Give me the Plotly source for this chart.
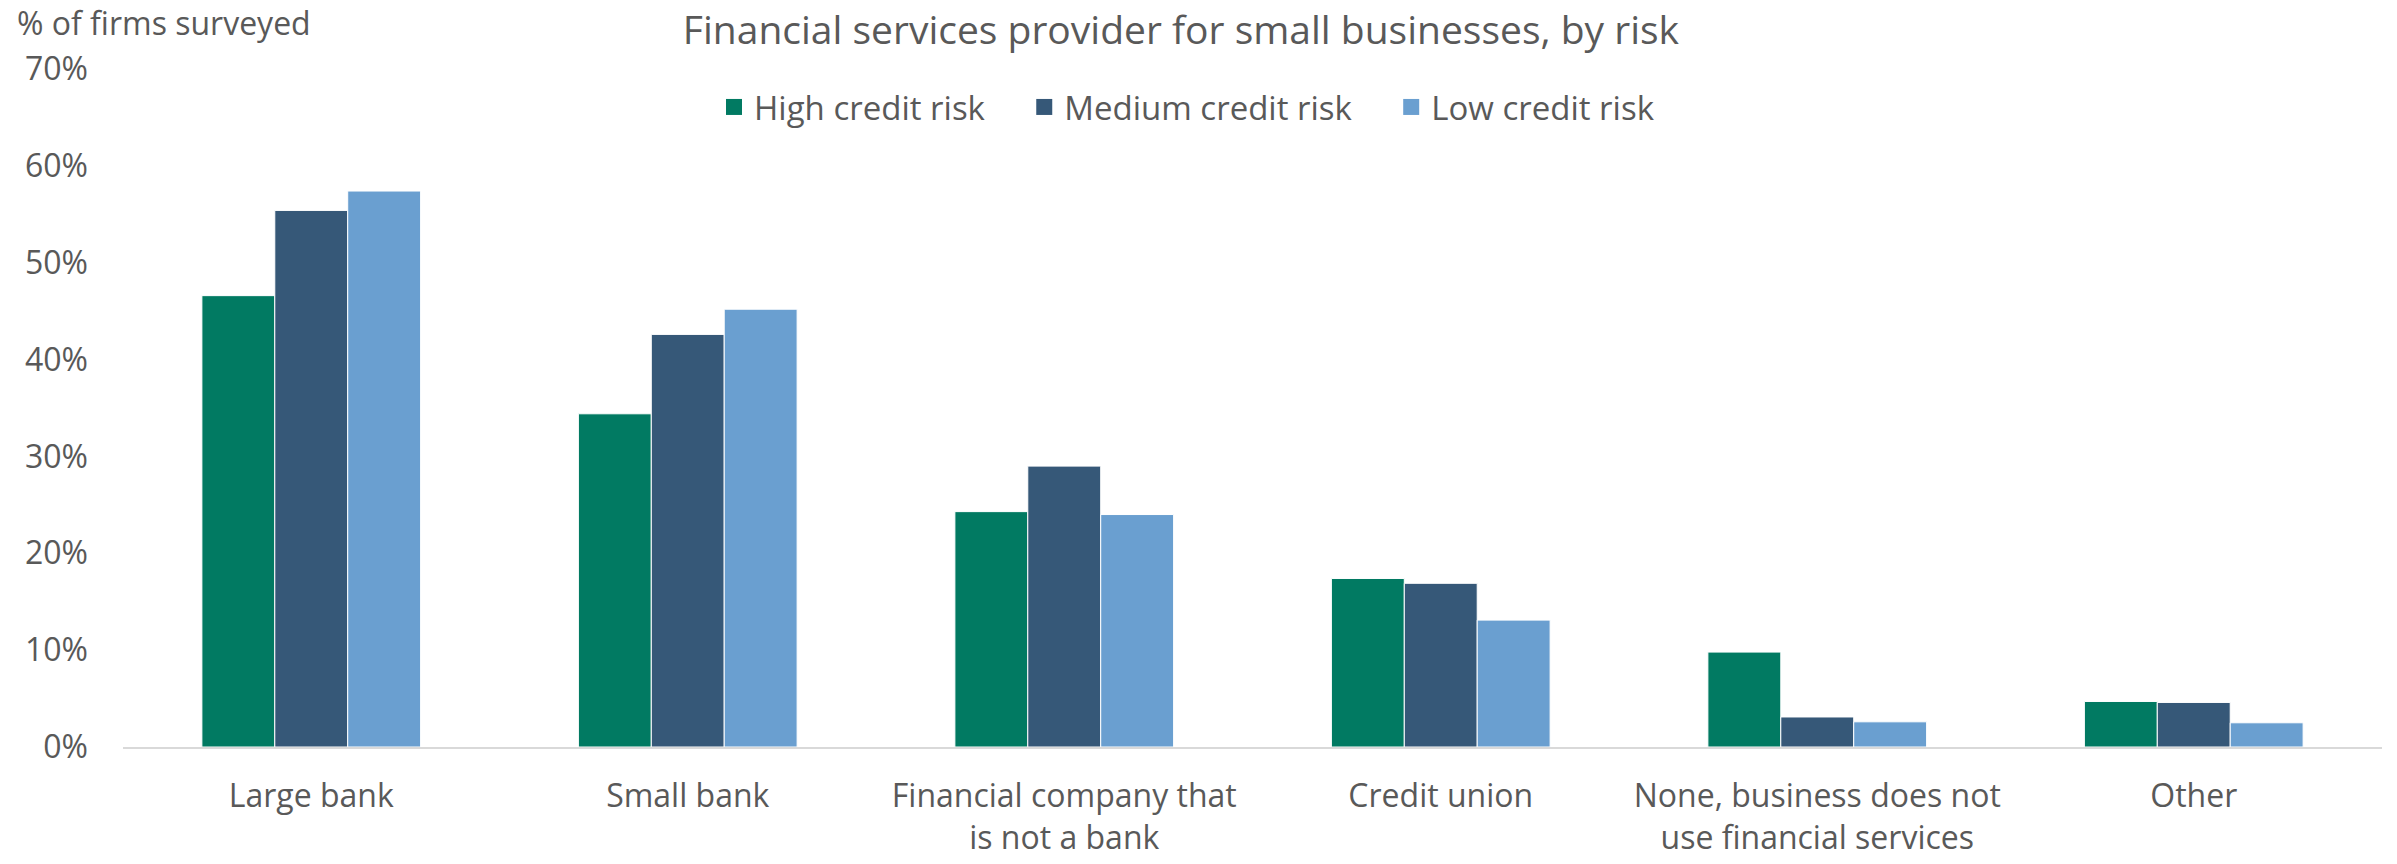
import plotly.graph_objects as go

categories = [
    "Large bank",
    "Small bank",
    "Financial company that<br>is not a bank",
    "Credit union",
    "None, business does not<br>use financial services",
    "Other",
]
series_names = ["High credit risk", "Medium credit risk", "Low credit risk"]
high_risk = [0.466, 0.344, 0.243, 0.174, 0.098, 0.047]
medium_risk = [0.554, 0.426, 0.290, 0.169, 0.031, 0.046]
low_risk = [0.574, 0.452, 0.240, 0.131, 0.026, 0.025]
y_ticks = [0, 0.1, 0.2, 0.3, 0.4, 0.5, 0.6, 0.7]

colors = ["#017A62", "#365878", "#6A9FD0"]
values = [high_risk, medium_risk, low_risk]
FONT = "Open Sans"
TXT = "#595959"
PAD = "\u00a0" * 4

fig = go.Figure()
for name, vals, col in zip(series_names, values, colors):
    fig.add_trace(go.Bar(
        x=categories, y=vals, name=name, showlegend=False,
        marker=dict(color=col, line=dict(color="white", width=1)),
    ))
# legend entries with larger square swatches
for i, (name, col) in enumerate(zip(series_names, colors)):
    label = name + (PAD if i < len(series_names) - 1 else "")
    fig.add_trace(go.Scatter(
        x=[None], y=[None], mode="markers", name=label,
        marker=dict(symbol="square", size=20, color=col),
    ))

fig.update_layout(
    width=2397, height=864, autosize=False,
    paper_bgcolor="white", plot_bgcolor="white",
    margin=dict(l=123, r=15, t=69, b=117, autoexpand=False),
    barmode="group", bargap=0.419, bargroupgap=0,
    font=dict(family=FONT, size=32, color=TXT),
    title=dict(
        text="Financial services provider for small businesses, by risk",
        x=1181 / 2397, xanchor="center", xref="container",
        y=1 - 30 / 864, yanchor="middle", yref="container",
        font=dict(family=FONT, size=39, color=TXT),
    ),
    legend=dict(
        orientation="h", x=1187 / 2397, xanchor="center", xref="container",
        y=1 - 107 / 864, yanchor="middle", yref="container",
        font=dict(family=FONT, size=33, color=TXT),
        bgcolor="rgba(0,0,0,0)", itemwidth=30,
    ),
    annotations=[dict(
        text="% of firms surveyed", xref="paper", yref="paper",
        x=-108 / 2259, y=1 + 46 / 677, xanchor="left", yanchor="middle",
        showarrow=False, font=dict(family=FONT, size=32, color=TXT),
    )],
)
fig.update_yaxes(
    range=[0, 0.7], tickvals=y_ticks, tickformat=".0%",
    showgrid=False, zeroline=False, showline=False, ticks="",
    automargin=False,
    ticklabelstandoff=34, tickfont=dict(size=32, color=TXT),
)
fig.update_xaxes(
    showgrid=False, zeroline=False, showline=True,
    linecolor="#D9D9D9", linewidth=2, ticks="",
    automargin=False,
    ticklabelstandoff=20, tickfont=dict(size=32, color=TXT),
)

fig.write_html(
    "out.html",
    config={"displayModeBar": False},
    post_script="document.body.style.margin='0';document.body.style.overflow='hidden';",
)
